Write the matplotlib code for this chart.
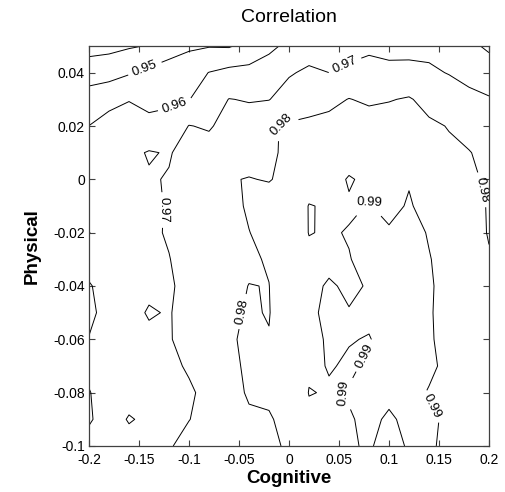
import numpy as np
import matplotlib
matplotlib.use('Agg')
import matplotlib.pyplot as plt

plt.rcParams['font.family'] = ['Liberation Sans', 'DejaVu Sans']

# grid of the surface (x = Cognitive, y = Physical, top row first)
cognitive = [-0.2, -0.18, -0.16, -0.14, -0.12, -0.1, -0.08, -0.06, -0.04, -0.02, 0.0,
             0.02, 0.04, 0.06, 0.08, 0.1, 0.12, 0.14, 0.16, 0.18, 0.2]
physical = [0.05, 0.04, 0.03, 0.02, 0.01, 0.0, -0.01, -0.02, -0.03, -0.04, -0.05,
            -0.06, -0.07, -0.08, -0.09, -0.1]

# correlation, one list per cognitive value (top -> bottom)
corr_by_cognitive = [
    [0.935, 0.9475, 0.9525, 0.9601, 0.9655, 0.967, 0.968, 0.9701, 0.9685, 0.9703, 0.9706, 0.9699, 0.969, 0.9702, 0.9703, 0.969],
    [0.937, 0.947, 0.9558, 0.9653, 0.967, 0.968, 0.9685, 0.968, 0.968, 0.9685, 0.969, 0.9685, 0.968, 0.968, 0.9688, 0.968],
    [0.939, 0.9492, 0.9595, 0.9655, 0.968, 0.968, 0.9685, 0.968, 0.9685, 0.969, 0.9685, 0.968, 0.9685, 0.969, 0.9702, 0.969],
    [0.9405, 0.9524, 0.9575, 0.9625, 0.9706, 0.9693, 0.9685, 0.9688, 0.969, 0.969, 0.9704, 0.969, 0.9688, 0.969, 0.9695, 0.969],
    [0.945, 0.955, 0.9585, 0.963, 0.9694, 0.9705, 0.9706, 0.9706, 0.9698, 0.9695, 0.9697, 0.9696, 0.969, 0.9688, 0.969, 0.9696],
    [0.9485, 0.956, 0.9597, 0.9703, 0.973, 0.9735, 0.9732, 0.973, 0.9725, 0.9712, 0.9718, 0.972, 0.9705, 0.9694, 0.9699, 0.9715],
    [0.9495, 0.9602, 0.9655, 0.969, 0.974, 0.975, 0.9755, 0.9755, 0.975, 0.9745, 0.974, 0.9745, 0.9735, 0.9712, 0.9715, 0.973],
    [0.9492, 0.9627, 0.9702, 0.9735, 0.977, 0.9797, 0.9785, 0.977, 0.976, 0.9785, 0.9788, 0.9796, 0.9793, 0.979, 0.979, 0.9785],
    [0.953, 0.963, 0.9695, 0.9735, 0.978, 0.9802, 0.9806, 0.9799, 0.979, 0.9801, 0.9806, 0.9806, 0.9805, 0.9803, 0.9796, 0.9795],
    [0.958, 0.9645, 0.9697, 0.979, 0.979, 0.9797, 0.9825, 0.9815, 0.9806, 0.9799, 0.9797, 0.9803, 0.9806, 0.9806, 0.9797, 0.9797],
    [0.962, 0.969, 0.9745, 0.981, 0.9812, 0.9815, 0.984, 0.985, 0.9855, 0.9855, 0.985, 0.984, 0.983, 0.9815, 0.981, 0.9802],
    [0.965, 0.9718, 0.977, 0.9815, 0.9845, 0.9865, 0.9903, 0.9902, 0.9885, 0.9888, 0.9893, 0.9885, 0.9888, 0.9903, 0.988, 0.9865],
    [0.966, 0.970, 0.9775, 0.983, 0.9855, 0.987, 0.9893, 0.9895, 0.9888, 0.9905, 0.9908, 0.9906, 0.9903, 0.9895, 0.9885, 0.988],
    [0.967, 0.9718, 0.9803, 0.9845, 0.9865, 0.9906, 0.9893, 0.9903, 0.9898, 0.9893, 0.9902, 0.9902, 0.9895, 0.9902, 0.9898, 0.9898],
    [0.9685, 0.9728, 0.9785, 0.9845, 0.987, 0.9885, 0.9902, 0.991, 0.9915, 0.9903, 0.9908, 0.9898, 0.9905, 0.9905, 0.9905, 0.9902],
    [0.9685, 0.9713, 0.9795, 0.9845, 0.9875, 0.9885, 0.9888, 0.9905, 0.992, 0.992, 0.9915, 0.9915, 0.991, 0.9905, 0.9897, 0.9893],
    [0.9675, 0.9723, 0.9808, 0.9845, 0.9875, 0.9897, 0.9904, 0.9915, 0.992, 0.992, 0.9915, 0.9915, 0.991, 0.991, 0.9905, 0.9902],
    [0.967, 0.9718, 0.977, 0.9815, 0.9845, 0.987, 0.9885, 0.9897, 0.9902, 0.9905, 0.9904, 0.9904, 0.9906, 0.9898, 0.9905, 0.9904],
    [0.9655, 0.9695, 0.976, 0.9796, 0.9815, 0.984, 0.986, 0.9875, 0.9885, 0.9885, 0.9884, 0.9888, 0.9892, 0.989, 0.9895, 0.9893],
    [0.962, 0.967, 0.9725, 0.9775, 0.9803, 0.9812, 0.9825, 0.9828, 0.984, 0.985, 0.9855, 0.986, 0.9862, 0.9865, 0.9868, 0.987],
    [0.9585, 0.9645, 0.9708, 0.9755, 0.978, 0.979, 0.9795, 0.9796, 0.9805, 0.982, 0.9835, 0.984, 0.9845, 0.9845, 0.985, 0.985],
]

levels = [0.94, 0.95, 0.96, 0.97, 0.98, 0.99]

x_ticks = [-0.2, -0.15, -0.1, -0.05, 0, 0.05, 0.1, 0.15, 0.2]
x_ticklabels = ['-0.2', '-0.15', '-0.1', '-0.05', '0', '0.05', '0.1', '0.15', '0.2']
y_ticks = [-0.1, -0.08, -0.06, -0.04, -0.02, 0, 0.02, 0.04]
y_ticklabels = ['-0.1', '-0.08', '-0.06', '-0.04', '-0.02', '0', '0.02', '0.04']

# where the inline labels sit
label_spots = [(-0.144, 0.0414), (-0.116, 0.0295), (0.057, 0.042), (-0.006, 0.019),
               (-0.126, -0.0115), (0.192, -0.004), (0.086, -0.005), (-0.041, -0.05),
               (0.077, -0.0665), (0.049, -0.081), (0.144, -0.085)]

Z = np.array(corr_by_cognitive).T

fig = plt.figure(figsize=(5.06, 4.92), dpi=100)
ax = fig.add_axes([0.1759, 0.0935, 0.7905, 0.813])

cs = ax.contour(cognitive, physical, Z, levels=levels, colors='k', linewidths=0.7)
ax.clabel(cs, levels, inline=True, fmt='%g', fontsize=9.5, manual=label_spots)

ax.set_xlim(-0.2, 0.2)
ax.set_ylim(-0.1, 0.05)
ax.set_xticks(x_ticks)
ax.set_xticklabels(x_ticklabels)
ax.set_yticks(y_ticks)
ax.set_yticklabels(y_ticklabels)
ax.tick_params(direction='in', top=True, right=True, length=4, width=0.8,
               labelsize=10, color='#404040')
ax.tick_params(axis='x', pad=5)
ax.tick_params(axis='y', pad=3)
for sp in ax.spines.values():
    sp.set_color('#404040')
    sp.set_linewidth(0.9)

fig.text(0.571, 0.964, 'Correlation', ha='center', va='center', fontsize=14)
fig.text(0.571, 0.028, 'Cognitive', ha='center', va='center', fontsize=13.5, fontweight='bold')
fig.text(0.063, 0.5, 'Physical', ha='center', va='center', rotation=90,
         fontsize=13.5, fontweight='bold')

fig.savefig('out.png', dpi=100)
